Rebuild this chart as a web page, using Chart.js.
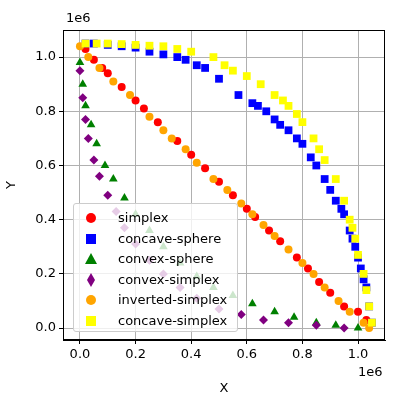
<!DOCTYPE html>
<html><head><meta charset="utf-8">
<script src="https://cdn.jsdelivr.net/npm/chart.js@4/dist/chart.umd.min.js"></script>
<style>
body{margin:0;background:#fff;font-family:"DejaVu Sans",sans-serif;}
#wrap{position:relative;width:400px;height:400px;}
#leg{position:absolute;left:73px;top:203px;width:165px;height:129px;border:1px solid #ccc;border-radius:3px;background:rgba(255,255,255,0.8);box-sizing:border-box;font-size:13px;color:#000;}
#leg div{position:absolute;left:44px;height:18px;line-height:18px;white-space:nowrap;}
#leg span{position:absolute;}
.off{position:absolute;font-size:13px;color:#000;}
</style></head><body>
<div id="wrap"><canvas id="c" width="400" height="400"></canvas>
<div class="off" style="left:66px;top:10px">1e6</div>
<div class="off" style="left:358px;top:364px">1e6</div>
<div id="leg"></div>
</div>
<script>
const seriesNames=["simplex","concave-sphere","convex-sphere","convex-simplex","inverted-simplex","concave-simplex"];
const colors=["red","blue","green","purple","orange","yellow"];
const styles=["circle","rect","triangle","rectRot","circle","rect"];
const radii=[4,5.5,5,4.5,4,5.5];
const xTicks=[0,0.2,0.4,0.6,0.8,1.0];
const yTicks=[0,0.2,0.4,0.6,0.8,1.0];
const simplex=[[0.02,1.03],[0.05,0.99],[0.08,0.96],[0.1,0.94],[0.15,0.89],[0.2,0.84],[0.23,0.81],[0.28,0.76],[0.35,0.69],[0.4,0.64],[0.45,0.59],[0.5,0.54],[0.55,0.49],[0.6,0.44],[0.63,0.41],[0.68,0.36],[0.72,0.32],[0.78,0.26],[0.82,0.22],[0.86,0.17],[0.9,0.13],[0.95,0.08],[1.0,0.06],[1.03,0.03]];
const concaveSphere=[[0.02,1.05],[0.05,1.05],[0.1,1.045],[0.15,1.04],[0.2,1.035],[0.25,1.02],[0.3,1.01],[0.35,1.0],[0.38,0.99],[0.42,0.97],[0.45,0.96],[0.5,0.92],[0.57,0.86],[0.62,0.83],[0.64,0.82],[0.67,0.8],[0.7,0.77],[0.72,0.75],[0.75,0.73],[0.78,0.7],[0.8,0.68],[0.83,0.63],[0.85,0.6],[0.88,0.55],[0.9,0.51],[0.92,0.47],[0.94,0.44],[0.95,0.42],[0.97,0.36],[0.98,0.33],[0.99,0.3],[1.0,0.26],[1.01,0.22],[1.02,0.18],[1.03,0.15],[1.04,0.08],[1.05,0.02]];
const convexSphere=[[0.0,0.98],[0.01,0.9],[0.02,0.82],[0.04,0.75],[0.06,0.68],[0.09,0.6],[0.12,0.55],[0.16,0.48],[0.2,0.42],[0.25,0.36],[0.3,0.3],[0.36,0.24],[0.42,0.19],[0.48,0.15],[0.55,0.12],[0.62,0.09],[0.7,0.06],[0.77,0.04],[0.85,0.02],[0.92,0.01],[1.0,0.0]];
const convexSimplex=[[0.0,0.95],[0.01,0.85],[0.02,0.77],[0.03,0.7],[0.05,0.62],[0.07,0.56],[0.1,0.49],[0.13,0.43],[0.16,0.37],[0.2,0.31],[0.25,0.25],[0.3,0.2],[0.36,0.15],[0.42,0.11],[0.5,0.07],[0.58,0.05],[0.66,0.03],[0.75,0.02],[0.85,0.01],[0.95,0.0]];
const invertedSimplex=[[0.0,1.04],[0.03,1.0],[0.07,0.96],[0.12,0.91],[0.18,0.86],[0.25,0.78],[0.3,0.73],[0.33,0.7],[0.38,0.66],[0.42,0.61],[0.48,0.55],[0.53,0.51],[0.58,0.46],[0.62,0.42],[0.66,0.38],[0.7,0.34],[0.75,0.29],[0.8,0.24],[0.84,0.2],[0.88,0.15],[0.93,0.1],[0.97,0.06],[1.02,0.02],[1.04,0.0]];
const concaveSimplex=[[0.02,1.05],[0.06,1.05],[0.1,1.05],[0.15,1.048],[0.2,1.045],[0.25,1.042],[0.3,1.04],[0.35,1.03],[0.4,1.02],[0.48,1.0],[0.52,0.97],[0.55,0.95],[0.6,0.93],[0.65,0.9],[0.7,0.86],[0.73,0.84],[0.75,0.82],[0.78,0.79],[0.8,0.76],[0.84,0.7],[0.86,0.66],[0.88,0.62],[0.92,0.55],[0.95,0.47],[0.97,0.4],[0.98,0.37],[0.99,0.33],[1.0,0.27],[1.02,0.2],[1.03,0.14],[1.04,0.08],[1.05,0.02]];
const all=[simplex,concaveSphere,convexSphere,convexSimplex,invertedSimplex,concaveSimplex];
const datasets=all.map((d,i)=>({label:seriesNames[i],data:d.map(p=>({x:p[0],y:p[1]})),backgroundColor:colors[i],borderColor:colors[i],borderWidth:0,pointStyle:styles[i],pointRadius:radii[i],order:6-i}));
const font={family:"DejaVu Sans",size:13};
const boxPlugin={id:'box',afterDraw(c){const a=c.chartArea,x=c.ctx;x.save();x.strokeStyle='#000';x.lineWidth=1;x.strokeRect(a.left+0.5,a.top+0.5,a.right-a.left-1,a.bottom-a.top-1);x.restore();}};
new Chart(document.getElementById('c'),{type:'scatter',data:{datasets},plugins:[boxPlugin],
options:{responsive:false,animation:false,layout:{padding:{top:30,right:15,left:0,bottom:0}},
plugins:{legend:{display:false},tooltip:{enabled:false}},
scales:{
x:{min:-0.061,max:1.097,afterBuildTicks:s=>{s.ticks=xTicks.map(v=>({value:v}));},afterFit:s=>{s.height=60;},
ticks:{color:'#000',font,callback:v=>v.toFixed(1),maxRotation:0},grid:{color:'#b0b0b0',tickColor:'#000',tickLength:4},border:{color:'#000'},
title:{display:true,text:'X',color:'#000',font,padding:{top:2}}},
y:{min:-0.044,max:1.10,afterBuildTicks:s=>{s.ticks=yTicks.map(v=>({value:v}));},afterFit:s=>{s.width=63;},
ticks:{color:'#000',font,callback:v=>v.toFixed(1)},grid:{color:'#b0b0b0',tickColor:'#000',tickLength:4},border:{color:'#000'},
title:{display:true,text:'Y',color:'#000',font,padding:{bottom:4}}}
}}});
const leg=document.getElementById('leg');
const marks=['<svg width="14" height="14"><circle cx="7" cy="7" r="5" fill="red"/></svg>','<svg width="14" height="14"><rect x="2" y="2" width="10" height="10" fill="blue"/></svg>','<svg width="14" height="14"><polygon points="7,1 13,12 1,12" fill="green"/></svg>','<svg width="14" height="14"><polygon points="7,0 11,7 7,14 3,7" fill="purple"/></svg>','<svg width="14" height="14"><circle cx="7" cy="7" r="5" fill="orange"/></svg>','<svg width="14" height="14"><rect x="2" y="2" width="10" height="10" fill="yellow"/></svg>'];
seriesNames.forEach((n,i)=>{const t=5+i*20.5;leg.insertAdjacentHTML('beforeend',`<span style="left:10px;top:${t+2}px">${marks[i]}</span><div style="top:${t}px">${n}</div>`);});
</script></body></html>
